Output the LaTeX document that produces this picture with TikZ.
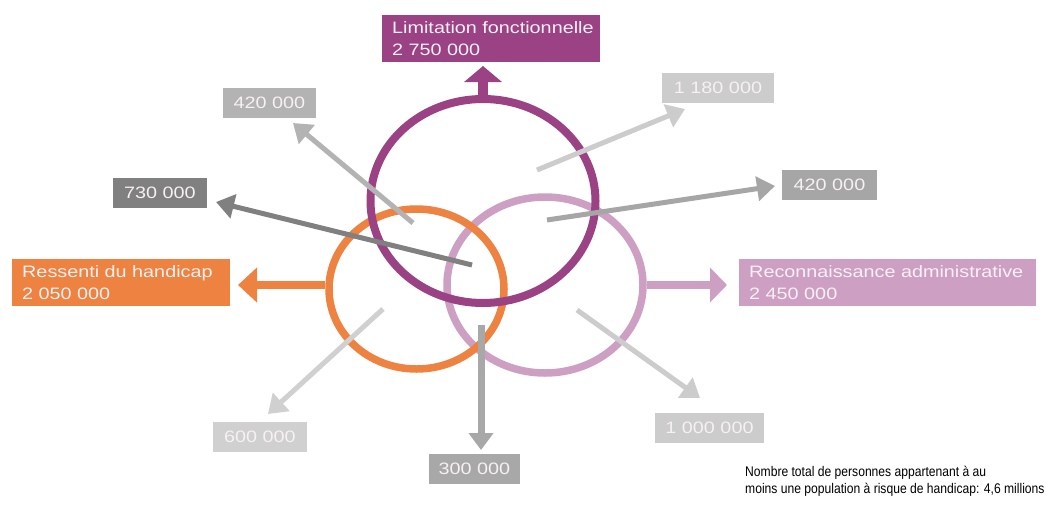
\documentclass[tikz,border=0pt]{standalone}
\usepackage{fontspec}
\setmainfont{Liberation Sans}[FakeStretch=1.2]
\newfontfamily\notefont{Liberation Sans}[FakeStretch=0.865]
\usetikzlibrary{arrows.meta,shapes.geometric}
\definecolor{cpurple}{HTML}{9A4284}
\definecolor{corange}{HTML}{EE8240}
\definecolor{cpink}{HTML}{CDA0C3}
\definecolor{txtw}{HTML}{F7F0F4}
\definecolor{gA}{HTML}{B3B3B3}
\definecolor{gB}{HTML}{808080}
\definecolor{gC}{HTML}{CCCCCC}
\definecolor{gD}{HTML}{A6A6A6}
\definecolor{gE}{HTML}{D0D0D0}
\definecolor{gF}{HTML}{A8A8A8}
\tikzset{
  hdr/.style={rectangle, inner xsep=10pt, inner ysep=0pt, minimum height=47pt,
    align=left, text=txtw, font=\fontsize{16.5}{22.5}\selectfont},
  numbox/.style={rectangle, inner sep=0pt, minimum height=30pt,
    text=txtw, font=\fontsize{16.5}{22.5}\selectfont},
  ring/.style={ellipse, inner sep=0pt},
  garrow/.style={line width=5pt, -{Triangle[length=18pt,width=24pt]}},
}
\begin{document}
\begin{tikzpicture}[x=1pt,y=-1pt]
\fill[white] (0,0) rectangle (1046,504);
\useasboundingbox (0,0) rectangle (1046,504);

% rings
\node[ring, draw=cpink, line width=7.5pt, minimum width=196pt, minimum height=176pt] (pink) at (545,285) {};
\node[ring, draw=corange, line width=7.5pt, minimum width=175pt, minimum height=160pt] (orange) at (416.5,289) {};
\node[ring, draw=cpurple, line width=8pt, minimum width=225pt, minimum height=204pt] (purple) at (483,201) {};

% header boxes
\node[hdr, fill=cpurple, text width=198pt, anchor=north west] (lim) at (382,15)
  {\mbox{Limitation fonctionnelle}\\2 750 000};
\node[hdr, fill=corange, text width=198pt, anchor=north west] (res) at (12,259)
  {\mbox{Ressenti du handicap}\\2 050 000};
\node[hdr, fill=cpink, text width=277pt, anchor=north west] (rec) at (739,259)
  {\mbox{Reconnaissance administrative}\\2 450 000};

% coloured arrows
\coordinate (limtip) at (483,66);
\coordinate (restip) at (238,285);
\coordinate (rectip) at (727,285);
\draw[cpurple, line width=10pt, -{Triangle[length=16pt,width=37pt]}] (purple.north) -- (limtip);
\draw[corange, line width=8pt, -{Triangle[length=19pt,width=34pt]}] (restip -| orange.west) -- (restip);
\draw[cpink, line width=8pt, -{Triangle[length=17pt,width=34pt]}] (pink.east) -- (rectip);

% number boxes
\node[numbox, fill=gA, minimum width=93pt] (n420a) at (269.5,103) {420 000};
\node[numbox, fill=gB, minimum width=94pt] (n730) at (160,193) {730 000};
\node[numbox, fill=gC, minimum width=112pt] (n1180) at (718,88) {1 180 000};
\node[numbox, fill=gD, minimum width=95pt] (n420b) at (829.5,185) {420 000};
\node[numbox, fill=gE, minimum width=94pt] (n600) at (260,437) {600 000};
\node[numbox, fill=gF, minimum width=91pt] (n300) at (474.5,469) {300 000};
\node[numbox, fill=gC, minimum width=109pt] (n1000) at (709.5,428) {1 000 000};

% grey arrows
\coordinate (s420a) at (413,223);  \coordinate (t420a) at (293,123);
\coordinate (s730) at (472,265);   \coordinate (t730) at (216,202);
\coordinate (s1180) at (537,170);  \coordinate (t1180) at (685,109);
\coordinate (s420b) at (547,220);  \coordinate (t420b) at (775,186);
\coordinate (s600) at (383,309);   \coordinate (t600) at (268,414);
\coordinate (s300) at (481,325);   \coordinate (t300) at (481,450);
\coordinate (s1000) at (577,310);  \coordinate (t1000) at (700,398);
\draw[garrow, gA] (s420a) -- (t420a);
\draw[garrow, gB] (s730) -- (t730);
\draw[garrow, gC] (s1180) -- (t1180);
\draw[garrow, gD] (s420b) -- (t420b);
\draw[garrow, gE] (s600) -- (t600);
\draw[gF, line width=7pt, -{Triangle[length=17pt,width=24pt]}] (s300) -- (t300);
\draw[garrow, gC] (s1000) -- (t1000);

% footnote
\node[anchor=north west, inner sep=0pt, align=left,
  font=\notefont\fontsize{14}{17}\selectfont] (note) at (745,465.8)
  {Nombre total de personnes appartenant à au\\moins une population à risque de handicap: 4,6 millions};
\end{tikzpicture}
\end{document}
